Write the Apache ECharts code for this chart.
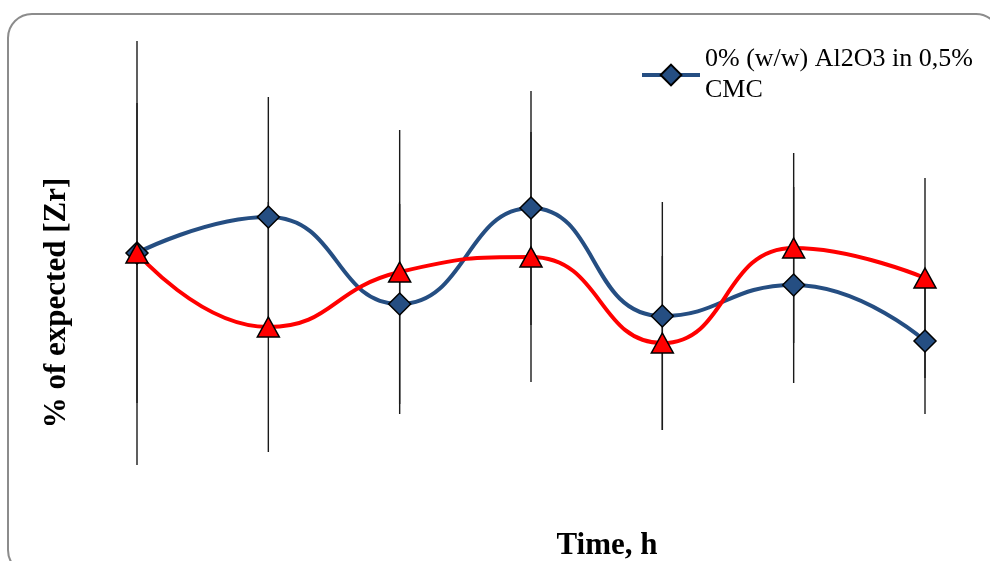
<!DOCTYPE html>
<html>
<head>
<meta charset="utf-8">
<script src="https://cdn.jsdelivr.net/npm/echarts@6/dist/echarts.min.js"></script>
<style>html,body{margin:0;padding:0;background:#fff;}#c{width:990px;height:561px;}</style>
</head>
<body>
<div id="c"></div>
<script>
const categories = ['0', '1', '2', '3', '4', '5', '6'];
const blueName = '0% (w/w) Al2O3 in 0,5%\nCMC';
const blueValues = [100, 109, 87.25, 111.25, 84.25, 92, 78];
const blueErrors = [53, 30, 25, 29.25, 28.5, 24.5, 18.25];
const redName = 'Red series';
const redValues = [100, 81.5, 95.25, 99, 77.5, 101.25, 93.75];
const redErrors = [37.5, 31.25, 35.5, 31.25, 21.75, 23.75, 25];
const xTitle = 'Time, h';
const yTitle = '% of expected [Zr]';

function errData(vals, errs) {
  return vals.map((v, i) => [i, v - errs[i], v + errs[i]]);
}
function errSeries(vals, errs, color) {
  return {
    type: 'custom',
    silent: true,
    z: 1,
    data: errData(vals, errs),
    renderItem: function (params, api) {
      const x = api.value(0);
      const lo = api.coord([x, api.value(1)]);
      const hi = api.coord([x, api.value(2)]);
      return {
        type: 'line',
        shape: { x1: lo[0], y1: lo[1], x2: hi[0], y2: hi[1] },
        style: { stroke: color, lineWidth: 1.4 }
      };
    }
  };
}

const titleFont = { fontFamily: 'Liberation Serif', fontSize: 31, fontWeight: 'bold', fill: '#000' };

const chart = echarts.init(document.getElementById('c'), null, { renderer: 'canvas' });
chart.setOption({
  animation: false,
  backgroundColor: '#fff',
  graphic: [{
    type: 'rect',
    shape: { x: 8, y: 14, width: 992, height: 560, r: 24 },
    style: { fill: 'none', stroke: '#8c8c8c', lineWidth: 2 },
    z: 0
  }, {
    type: 'text',
    x: 607, y: 546,
    style: Object.assign({ text: xTitle, align: 'center', verticalAlign: 'middle' }, titleFont)
  }, {
    type: 'text',
    x: 57, y: 303,
    rotation: Math.PI / 2,
    style: Object.assign({ text: yTitle, align: 'center', verticalAlign: 'middle' }, titleFont)
  }],
  grid: { left: 137, right: 65, top: 13, bottom: 68 },
  legend: {
    data: [blueName],
    left: 635,
    top: 39,
    itemWidth: 58,
    itemHeight: 26,
    padding: 5,
    lineStyle: { width: 4 },
    textStyle: { fontFamily: 'Liberation Serif', fontSize: 26, color: '#000', lineHeight: 31 }
  },
  xAxis: {
    type: 'category',
    data: categories,
    boundaryGap: false,
    axisLine: { show: false },
    axisTick: { show: false },
    axisLabel: { show: false },
    splitLine: { show: false }
  },
  yAxis: {
    type: 'value',
    min: 40,
    max: 160,
    axisLine: { show: false },
    axisTick: { show: false },
    axisLabel: { show: false },
    splitLine: { show: false }
  },
  series: [
    errSeries(blueValues, blueErrors, '#1a1a1a'),
    errSeries(redValues, redErrors, '#1a1a1a'),
    {
      name: blueName,
      type: 'line',
      data: blueValues,
      smooth: 0.5,
      z: 3,
      lineStyle: { color: '#254E82', width: 4 },
      symbol: 'diamond',
      symbolSize: 22,
      itemStyle: { color: '#254E82', borderColor: '#000', borderWidth: 1.5 }
    },
    {
      name: redName,
      type: 'line',
      data: redValues,
      smooth: 0.5,
      z: 4,
      lineStyle: { color: '#FF0000', width: 4 },
      symbol: 'triangle',
      symbolSize: [22, 20],
      itemStyle: { color: '#FF0000', borderColor: '#000', borderWidth: 1.5 }
    }
  ]
});
</script>
</body>
</html>
